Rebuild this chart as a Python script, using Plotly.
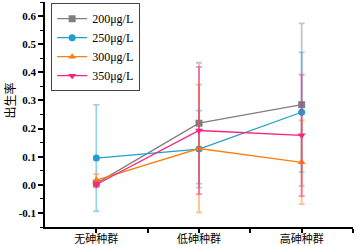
import plotly.graph_objects as go

categories = ["无砷种群", "低砷种群", "高砷种群"]
x_pos = [0.5, 1.5, 2.5]
series_names = ["200μg/L", "250μg/L", "300μg/L", "350μg/L"]
vals_200 = [0.005, 0.219, 0.285]
err_200 = [0.01, 0.215, 0.289]
vals_250 = [0.095, 0.127, 0.258]
err_250 = [0.189, 0.137, 0.213]
vals_300 = [0.017, 0.129, 0.080]
err_300 = [0.021, 0.227, 0.149]
vals_350 = [0.001, 0.193, 0.176]
err_350 = [0.01, 0.226, 0.216]

styles = [
    ("#7f7f7f", "rgba(127,127,127,0.45)", "square"),
    ("#1f9fcf", "rgba(31,159,207,0.45)", "circle"),
    ("#ff7f0e", "rgba(255,127,14,0.5)", "triangle-up"),
    ("#ff1f7f", "rgba(255,31,127,0.5)", "triangle-down"),
]

fig = go.Figure()
for name, vals, errs, (c, ec, sym) in zip(
        series_names,
        [vals_200, vals_250, vals_300, vals_350],
        [err_200, err_250, err_300, err_350], styles):
    fig.add_trace(go.Scatter(
        x=x_pos, y=vals, name=name, mode="lines+markers",
        line=dict(color=c, width=1.3),
        marker=dict(color=c, symbol=sym, size=7),
        error_y=dict(type="data", array=errs, visible=True, color=ec,
                     thickness=1.8, width=3),
    ))

fig.update_layout(
    width=356, height=246,
    margin=dict(l=45, r=3, t=2, b=19),
    plot_bgcolor="white", paper_bgcolor="white",
    font=dict(family="Liberation Serif", color="black", size=11),
    legend=dict(x=0.02, y=0.995, xanchor="left", yanchor="top",
                bordercolor="#444", borderwidth=1, bgcolor="white",
                font=dict(family="Liberation Serif", size=12),
                tracegroupgap=0, itemwidth=30),
    showlegend=True,
    annotations=[dict(text="出生率", textangle=-90, xref="paper", yref="paper",
                      x=-0.115, y=0.56, xanchor="center", yanchor="middle",
                      showarrow=False,
                      font=dict(family="Noto Sans CJK SC", size=12))],
)
fig.update_xaxes(
    range=[0, 3], tickmode="array", tickvals=x_pos, ticktext=categories,
    showline=True, linecolor="black", linewidth=1.5, mirror=False,
    ticks="outside", ticklen=4, tickwidth=1.5, tickcolor="black",
    showgrid=False, zeroline=False, automargin=False,
    ticklabelstandoff=-3,
    tickfont=dict(family="Noto Sans CJK SC", size=11),
    minor=dict(tickmode="array", tickvals=[1, 2, 3], ticks="outside",
               ticklen=4, tickwidth=1.5, tickcolor="black"),
)
fig.update_yaxes(
    range=[-0.15, 0.65], tickmode="array",
    tickvals=[-0.1, 0.0, 0.1, 0.2, 0.3, 0.4, 0.5, 0.6],
    ticktext=["-0.1", "0.0", "0.1", "0.2", "0.3", "0.4", "0.5", "0.6"],
    showline=True, linecolor="black", linewidth=1.5,
    ticks="outside", ticklen=5, tickwidth=1.5, tickcolor="black",
    showgrid=False, zeroline=False, automargin=False,
    tickfont=dict(family="Liberation Serif", size=11, weight="bold"),
    minor=dict(dtick=0.05, tick0=0, ticks="outside", ticklen=3,
               tickwidth=1.2, tickcolor="black"),
)

fig.write_html("out.html", config={"displayModeBar": False},
               post_script="document.body.style.margin='0';document.body.style.overflow='hidden';")
